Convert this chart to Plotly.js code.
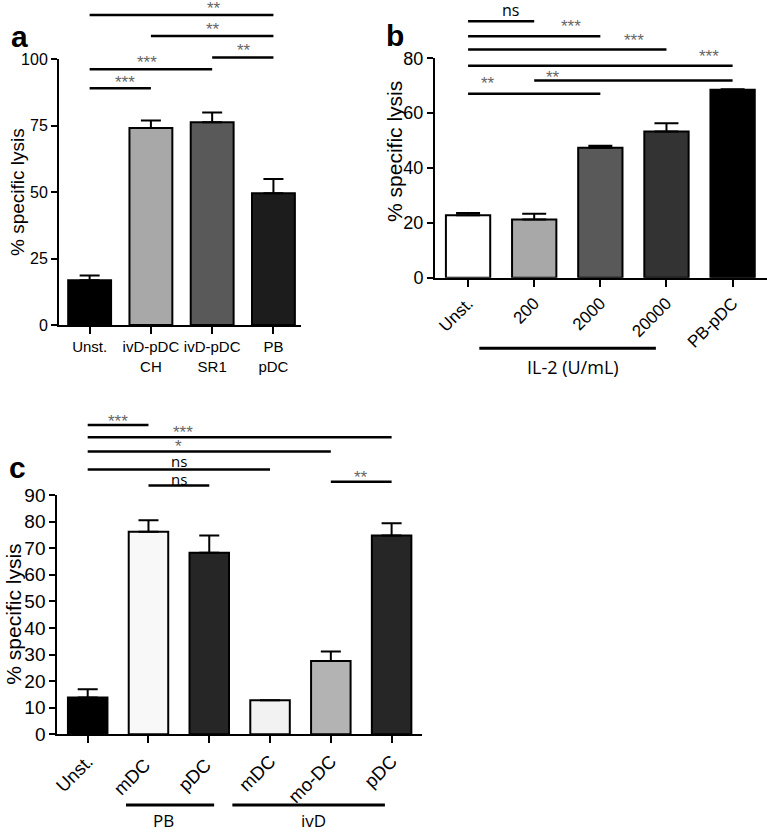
<!DOCTYPE html>
<html><head><meta charset="utf-8">
<script src="https://cdn.plot.ly/plotly-3.0.1.min.js"></script>
<style>html,body{margin:0;padding:0;background:#fff}</style>
</head><body><div id="chart" style="width:767px;height:834px"></div>
<script>
// ---------- Panel a ----------
const aCats = ['Unst.', 'ivD-pDC<br>CH', 'ivD-pDC<br>SR1', 'PB<br>pDC'];
const aMean = [16.8, 74.1, 76.2, 49.5];
const aErr = [1.8, 2.8, 3.7, 5.4];
const aColors = ['#000000', '#a8a8a8', '#595959', '#1c1c1c'];
const aSigFrom = [0, 1, 2, 0, 0];
const aSigTo = [3, 3, 3, 2, 1];
const aSigY = [116.5, 108.6, 100.6, 96.1, 89.0];
const aSigText = ['**', '**', '**', '***', '***'];
const aSigTextX = [2.03, 2.02, 2.52, 0.94, 0.57];
const aSigTextY = [119.9, 112.0, 103.9, 99.6, 92.0];
const aTicks = [0, 25, 50, 75, 100];

// ---------- Panel b ----------
const bCats = ['Unst.', '200', '2000', '20000', 'PB-pDC'];
const bMean = [22.8, 21.2, 47.4, 53.3, 68.5];
const bErr = [0.8, 2.1, 0.7, 3.0, 0.2];
const bColors = ['#ffffff', '#a8a8a8', '#595959', '#333333', '#000000'];
const bSigFrom = [0, 0, 0, 0, 1, 0];
const bSigTo = [1, 2, 3, 4, 4, 2];
const bSigY = [93.5, 88.0, 83.2, 77.3, 71.9, 67.1];
const bSigText = ['ns', '***', '***', '***', '**', '**'];
const bSigTextX = [0.64, 1.55, 2.51, 3.65, 1.29, 0.30];
const bSigTextY = [97.7, 92.3, 87.4, 81.3, 73.7, 71.5];
const bTicks = [0, 20, 40, 60, 80];
const bGroupLabel = ['IL-2 (U/mL)'];
const bGroupFrom = [0.17];
const bGroupTo = [2.84];
const bGroupTextX = [1.59];

// ---------- Panel c ----------
const cCats = ['Unst.', 'mDC ', 'pDC ', 'mDC', 'mo-DC', 'pDC'];
const cMean = [13.8, 76.2, 68.3, 12.8, 27.6, 74.8];
const cErr = [3.1, 4.3, 6.5, 0, 3.5, 4.6];
const cColors = ['#000000', '#f8f8f8', '#262626', '#f2f2f2', '#b3b3b3', '#262626'];
const cSigFrom = [0, 0, 0, 0, 1, 4];
const cSigTo = [1, 5, 4, 3, 2, 5];
const cSigY = [116.3, 111.7, 106.4, 99.6, 93.6, 95.0];
const cSigText = ['***', '***', '*', 'ns', 'ns', '**'];
const cSigTextX = [0.5, 1.56, 1.5, 1.5, 1.5, 4.49];
const cSigTextY = [118.4, 114.1, 109.0, 102.9, 96.2, 97.4];
const cTicks = [0, 10, 20, 30, 40, 50, 60, 70, 80, 90];
const cGroupLabel = ['PB', 'ivD'];
const cGroupFrom = [0.63, 2.38];
const cGroupTo = [2.08, 4.89];
const cGroupTextX = [1.24, 3.71];

const ARIAL = 'Liberation Sans, Arial, sans-serif';
const OPEN = 'Open Sans, Noto Sans, sans-serif';

function barTrace(cats, mean, err, colors, xa, ya, w, capw) {
  return {
    type: 'bar', x: cats, y: mean, xaxis: xa, yaxis: ya, width: w,
    marker: {color: colors, line: {color: '#000', width: 2}},
    error_y: {type: 'data', symmetric: false, array: err, arrayminus: err.map(() => 0),
              color: '#000', thickness: 2, width: capw},
    hoverinfo: 'skip', showlegend: false
  };
}

const shapes = [];
const annotations = [];

function addSig(from, to, ys, texts, tx, ty, xa, ya, ymax, nsSize) {
  for (let i = 0; i < from.length; i++) {
    shapes.push({type: 'line', xref: xa, yref: ya + ' domain',
      x0: from[i], x1: to[i], y0: ys[i] / ymax, y1: ys[i] / ymax,
      line: {color: '#000', width: 2.5}});
    const isStar = texts[i].indexOf('*') >= 0;
    annotations.push({xref: xa, yref: ya + ' domain', x: tx[i], y: ty[i] / ymax,
      text: texts[i], showarrow: false, xanchor: 'center', yanchor: 'middle',
      yshift: isStar ? -2 : 0,
      font: isStar ? {family: ARIAL, size: 17, color: '#666'} : {family: OPEN, size: nsSize, color: '#000'}});
  }
}
addSig(aSigFrom, aSigTo, aSigY, aSigText, aSigTextX, aSigTextY, 'x', 'y', 100, 16);
addSig(bSigFrom, bSigTo, bSigY, bSigText, bSigTextX, bSigTextY, 'x2', 'y2', 80, 16);
addSig(cSigFrom, cSigTo, cSigY, cSigText, cSigTextX, cSigTextY, 'x3', 'y3', 90, 15);

function addGroups(labels, from, to, tx, xa, ya, lineDom, textDom, size) {
  for (let i = 0; i < labels.length; i++) {
    shapes.push({type: 'line', xref: xa, yref: ya + ' domain', x0: from[i], x1: to[i],
      y0: lineDom, y1: lineDom, line: {color: '#000', width: 3}});
    annotations.push({xref: xa, yref: ya + ' domain', x: tx[i], y: textDom, text: labels[i],
      showarrow: false, xanchor: 'center', yanchor: 'middle',
      font: {family: OPEN, size: size, color: '#000'}});
  }
}
addGroups(bGroupLabel, bGroupFrom, bGroupTo, bGroupTextX, 'x2', 'y2', -0.322, -0.405, 18);
addGroups(cGroupLabel, cGroupFrom, cGroupTo, cGroupTextX, 'x3', 'y3', -0.295, -0.362, 17);

// y titles
annotations.push({xref: 'paper', yref: 'y domain', x: 17 / 767, y: 0.5, text: '% specific lysis',
  textangle: -90, showarrow: false, xanchor: 'center', yanchor: 'middle', font: {family: ARIAL, size: 19, color: '#000'}});
annotations.push({xref: 'paper', yref: 'y2 domain', x: 395 / 767, y: 0.573, text: '% specific lysis',
  textangle: -90, showarrow: false, xanchor: 'center', yanchor: 'middle', font: {family: ARIAL, size: 21, color: '#000'}});
annotations.push({xref: 'paper', yref: 'y3 domain', x: 14 / 767, y: 0.5, text: '% specific lysis',
  textangle: -90, showarrow: false, xanchor: 'center', yanchor: 'middle', font: {family: ARIAL, size: 21, color: '#000'}});
// panel letters
[['a', 19, 37], ['b', 395, 36], ['c', 17, 468]].forEach(p => {
  annotations.push({xref: 'paper', yref: 'paper', x: p[1] / 767, y: 1 - p[2] / 834, text: '<b>' + p[0] + '</b>',
    showarrow: false, xanchor: 'center', yanchor: 'middle', font: {family: ARIAL, size: 30, color: '#000'}});
});

function yax(domain, range, ticks, size, anchor) {
  return {domain: domain, range: range, tickvals: ticks, ticks: 'outside', ticklen: 6, tickwidth: 2,
    showline: true, linewidth: 2, linecolor: '#000', tickcolor: '#000', showgrid: false, zeroline: false,
    tickfont: {family: ARIAL, size: size, color: '#000'}, anchor: anchor, fixedrange: true};
}
function xax(domain, range, size, angle, anchor) {
  return {domain: domain, range: range, type: 'category', ticks: 'outside', ticklen: 7, tickwidth: 2,
    showline: true, linewidth: 2, linecolor: '#000', tickcolor: '#000', showgrid: false, zeroline: false,
    tickangle: angle, tickfont: {family: ARIAL, size: size, color: '#000'}, anchor: anchor, fixedrange: true};
}

const layout = {
  width: 767, height: 834, margin: {l: 0, r: 0, t: 0, b: 0},
  paper_bgcolor: '#fff', plot_bgcolor: 'rgba(0,0,0,0)', showlegend: false,
  xaxis: xax([59 / 767, 301 / 767], [-0.5, 3.45], 15, 0, 'y'),
  yaxis: yax([1 - 325 / 834, 1 - 59 / 834], [0, 100], aTicks, 16, 'x'),
  xaxis2: xax([435 / 767, 1], [-0.5, 4.52], 17, -45, 'y2'),
  yaxis2: yax([1 - 277.7 / 834, 1 - 58.3 / 834], [0, 80], bTicks, 18, 'x2'),
  xaxis3: xax([57.3 / 767, 422 / 767], [-0.5, 5.5], 18.5, -45, 'y3'),
  yaxis3: yax([1 - 734.3 / 834, 1 - 495 / 834], [0, 90], cTicks, 19, 'x3'),
  shapes: shapes, annotations: annotations, bargap: 0.3
};

const data = [
  barTrace(aCats, aMean, aErr, aColors, 'x', 'y', 0.7, 10),
  barTrace(bCats, bMean, bErr, bColors, 'x2', 'y2', 0.67, 12),
  barTrace(cCats, cMean, cErr, cColors, 'x3', 'y3', 0.65, 10)
];

Plotly.newPlot('chart', data, layout, {staticPlot: true, displayModeBar: false});
</script>
</body></html>
